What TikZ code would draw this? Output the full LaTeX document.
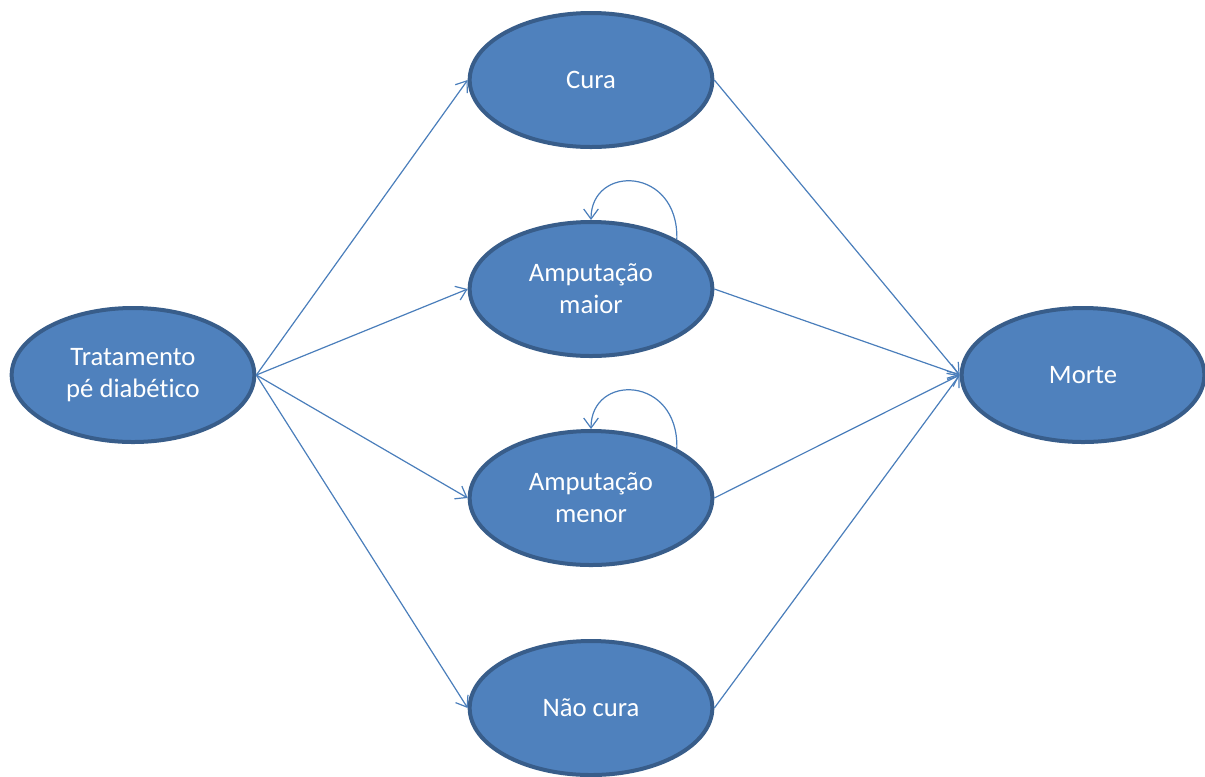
\documentclass[tikz,border=0pt]{standalone}
\usepackage{fontspec}
\setmainfont[Ligatures={NoCommon,NoRare}]{Carlito}
\usepackage{tikz}
\usetikzlibrary{shapes.geometric,arrows.meta}
\definecolor{estadoFill}{HTML}{4F81BD}
\definecolor{estadoBorda}{HTML}{385D8A}
\definecolor{setaCor}{HTML}{4A7EBB}
\newcommand{\estadoFonte}{\fontsize{20}{24}\selectfont}

\begin{document}
\begin{tikzpicture}[x=0.75pt,y=-0.75pt,
    estado/.style={ellipse, draw=estadoBorda, fill=estadoFill, line width=3pt,
      minimum width=182pt, minimum height=100.5pt, inner sep=0pt,
      text=white, align=center, font=\estadoFonte},
    seta/.style={draw=setaCor, line width=0.9pt, -{Straight Barb[length=7.5pt,width=11pt]}}]
            \useasboundingbox (0,0) rectangle (1205,776); % fix page size

            % define the states (nodes)
            \path (133,375) node (T) [estado] {Tratamento\\pé diabético};
            \path (591,80) node (C) [estado] {Cura};
            \path (591,289) node (AM) [estado] {Amputação\\maior};
            \path (591,498) node (Am) [estado] {Amputação\\menor};
            \path (591,708) node (N) [estado] {Não cura};
            \path (1083,375) node (M) [estado] {Morte};

            % transitions from treatment and to death
            \foreach \X in {C,AM,Am,N}{
              \draw [seta] (T.east) -- (\X.west);
              \draw [seta] (\X.east) -- (M.west);
            }

            % self loops of the amputation states
            \foreach \X in {AM,Am}{
              \draw [seta] (\X.30) .. controls ++(2,-73) and ++(0,-56) .. (\X.north);
            }

        \end{tikzpicture}
\end{document}
